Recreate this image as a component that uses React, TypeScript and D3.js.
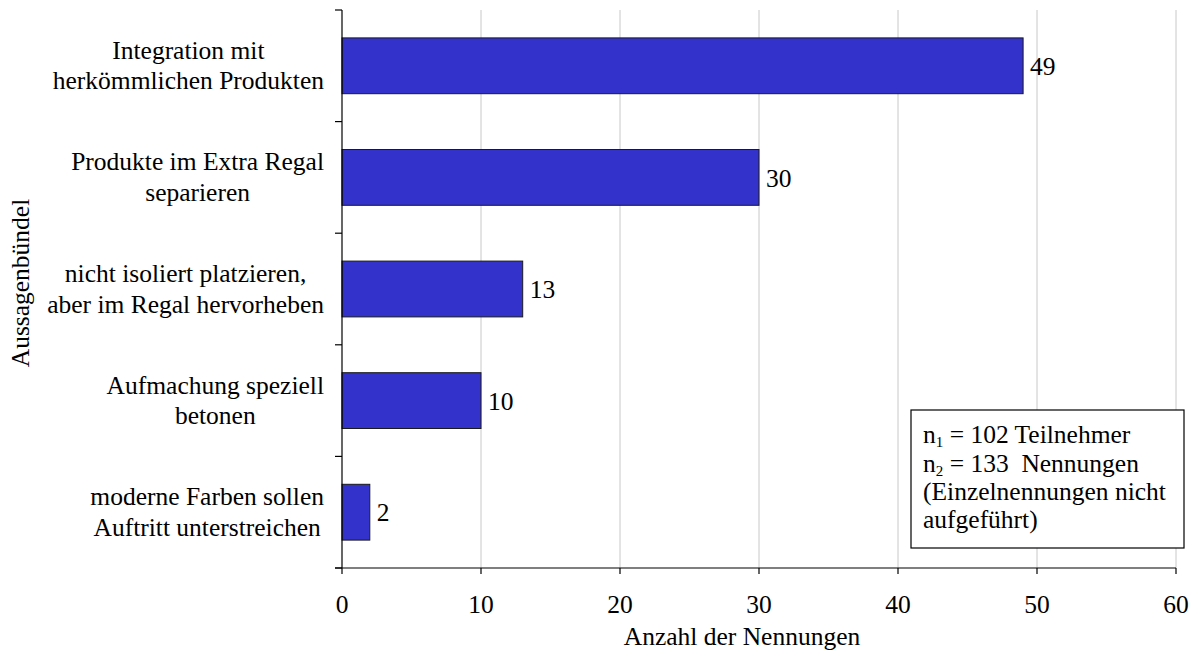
import React, { useEffect, useRef } from "react";
import * as d3 from "d3";

// Aussagenbündel (Kategorien) und Anzahl der Nennungen
const categories: string[][] = [
  ["Integration mit", "herkömmlichen Produkten"],
  ["Produkte im Extra Regal", "separieren"],
  ["nicht isoliert platzieren,", "aber im Regal hervorheben"],
  ["Aufmachung speziell", "betonen"],
  ["moderne Farben sollen", "Auftritt unterstreichen"],
];
const counts: number[] = [49, 30, 13, 10, 2];
const xTicks: number[] = [0, 10, 20, 30, 40, 50, 60];
const xTitle = "Anzahl der Nennungen";
const yTitle = "Aussagenbündel";

const W = 1196;
const H = 655;
const FONT = "'Liberation Serif', 'Times New Roman', serif";
const FS = 25.5;

export default function App() {
  const ref = useRef<SVGSVGElement>(null);

  useEffect(() => {
    const svg = d3.select(ref.current!);
    svg.selectAll("*").remove();

    const left = 342;
    const right = 1176;
    const top = 10;
    const bottom = 568;

    const x = d3.scaleLinear().domain([0, 60]).range([left, right]);
    const y = d3
      .scaleBand<number>()
      .domain(d3.range(categories.length))
      .range([top, bottom])
      .paddingInner(0.5)
      .paddingOuter(0.25);
    const band = d3
      .scaleBand<number>()
      .domain(d3.range(categories.length))
      .range([top, bottom]);

    const g = svg.append("g").attr("font-family", FONT).attr("fill", "#000");

    // vertical gridlines
    g.append("g")
      .selectAll("line")
      .data(xTicks.filter((t) => t > 0))
      .join("line")
      .attr("x1", (d) => x(d))
      .attr("x2", (d) => x(d))
      .attr("y1", top)
      .attr("y2", bottom)
      .attr("stroke", "#c8c8c8")
      .attr("stroke-width", 1);

    // bars
    g.append("g")
      .selectAll("rect")
      .data(counts)
      .join("rect")
      .attr("x", x(0))
      .attr("y", (_, i) => y(i)!)
      .attr("width", (d) => x(d) - x(0))
      .attr("height", y.bandwidth())
      .attr("fill", "#3333CC")
      .attr("stroke", "#1a1a1a")
      .attr("stroke-width", 1);

    // value labels
    g.append("g")
      .selectAll("text")
      .data(counts)
      .join("text")
      .attr("x", (d) => x(d) + 7)
      .attr("y", (_, i) => y(i)! + y.bandwidth() / 2)
      .attr("dy", "0.36em")
      .attr("font-size", FS)
      .text((d) => d);

    // y axis line and ticks at category boundaries
    const yAxis = g.append("g").attr("stroke", "#000").attr("stroke-width", 1.2);
    yAxis
      .append("line")
      .attr("x1", left)
      .attr("x2", left)
      .attr("y1", top)
      .attr("y2", bottom);
    const boundaries = d3.range(categories.length + 1).map((i) =>
      i < categories.length ? band(i)! : bottom
    );
    yAxis
      .selectAll("line.tick")
      .data(boundaries)
      .join("line")
      .attr("class", "tick")
      .attr("x1", left - 7)
      .attr("x2", left)
      .attr("y1", (d) => d)
      .attr("y2", (d) => d);

    // x axis line, ticks and tick labels
    const xAxis = g.append("g");
    xAxis
      .append("line")
      .attr("x1", left - 7)
      .attr("x2", right)
      .attr("y1", bottom)
      .attr("y2", bottom)
      .attr("stroke", "#000")
      .attr("stroke-width", 1.2);
    xAxis
      .selectAll("line.tick")
      .data(xTicks)
      .join("line")
      .attr("class", "tick")
      .attr("x1", (d) => x(d))
      .attr("x2", (d) => x(d))
      .attr("y1", bottom)
      .attr("y2", bottom + 6)
      .attr("stroke", "#000")
      .attr("stroke-width", 1.2);
    xAxis
      .selectAll("text")
      .data(xTicks)
      .join("text")
      .attr("x", (d) => x(d))
      .attr("y", 613)
      .attr("text-anchor", "middle")
      .attr("font-size", FS)
      .text((d) => d);

    // axis titles
    g.append("text")
      .attr("x", 742)
      .attr("y", 645)
      .attr("text-anchor", "middle")
      .attr("font-size", FS)
      .text(xTitle);
    g.append("text")
      .attr("transform", "translate(29,283) rotate(-90)")
      .attr("text-anchor", "middle")
      .attr("font-size", FS)
      .text(yTitle);

    // category labels: block right-aligned, lines centred within block
    categories.forEach((lines, i) => {
      const cy = band(i)! + band.bandwidth() / 2;
      const grp = g.append("g");
      const texts = lines.map((ln, k) =>
        grp
          .append("text")
          .attr("y", cy - 7 + k * 30.5)
          .attr("text-anchor", "middle")
          .attr("font-size", FS)
          .text(ln)
      );
      const maxW = d3.max(texts, (t) => (t.node() as SVGTextElement).getComputedTextLength()) || 0;
      texts.forEach((t) => t.attr("x", 324 - maxW / 2));
    });

    // sample info box
    const box = g.append("g");
    box
      .append("rect")
      .attr("x", 911)
      .attr("y", 410)
      .attr("width", 273)
      .attr("height", 138)
      .attr("fill", "#fff")
      .attr("stroke", "#000")
      .attr("stroke-width", 1.2);
    const bx = 923;
    const t1 = box.append("text").attr("x", bx).attr("y", 443).attr("font-size", FS);
    t1.append("tspan").text("n");
    t1.append("tspan").attr("font-size", 15).attr("dy", 4).text("1");
    t1.append("tspan").attr("dy", -4).text(" = 102 Teilnehmer");
    const t2 = box.append("text").attr("x", bx).attr("y", 472).attr("font-size", FS);
    t2.append("tspan").text("n");
    t2.append("tspan").attr("font-size", 15).attr("dy", 4).text("2");
    t2.append("tspan").attr("dy", -4).style("white-space", "pre").text(" = 133  Nennungen");
    box.append("text").attr("x", bx).attr("y", 500).attr("font-size", FS).text("(Einzelnennungen nicht");
    box.append("text").attr("x", bx).attr("y", 528).attr("font-size", FS).text("aufgeführt)");
  }, []);

  return (
    <svg
      ref={ref}
      width={W}
      height={H}
      style={{ position: "absolute", left: 0, top: 0, background: "#fff" }}
    />
  );
}
